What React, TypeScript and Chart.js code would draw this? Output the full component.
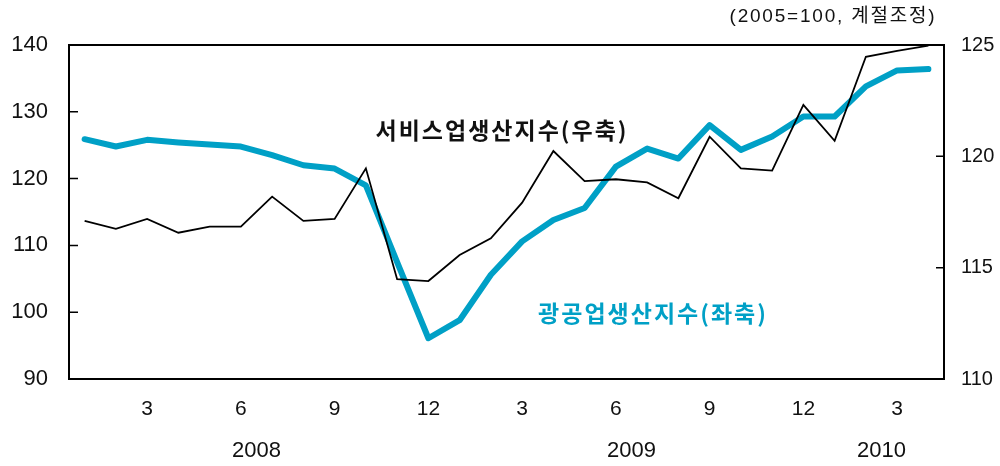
import React, { useEffect, useRef } from "react";
import { Chart, registerables } from "chart.js";
Chart.register(...registerables);

const months = [
  "1","2","3","4","5","6","7","8","9","10","11","12",
  "1","2","3","4","5","6","7","8","9","10","11","12",
  "1","2","3","4",
];
const industrial = [
  125.9, 124.8, 125.8, 125.4, 125.1, 124.8, 123.5, 122.0, 121.5, 119.0, 107.5, 96.1,
  98.8, 105.6, 110.6, 113.8, 115.6, 121.8, 124.5, 123.0, 128.0, 124.3, 126.3, 129.3,
  129.3, 133.8, 136.2, 136.4,
];
const services = [
  117.1, 116.74, 117.19, 116.57, 116.84, 116.84, 118.19, 117.1, 117.19, 119.46, 114.48, 114.4,
  115.57, 116.32, 117.92, 120.24, 118.89, 118.97, 118.83, 118.12, 120.88, 119.46, 119.36, 122.31,
  120.7, 124.47, 124.74, 124.97,
];
const shownMonths = ["3", "6", "9", "12"];
const years = [
  { label: "2008", between: [5, 6] },
  { label: "2009", between: [17, 18] },
  { label: "2010", between: [25, 26] },
];
const leftTicks = [130, 120, 110, 100];
const rightTicks = [120, 115];

const BLUE = "#00a0c6";
const NUM_FONT = "Liberation Sans";
const KR_FONT = "Noto Sans CJK KR";

export default function App() {
  const ref = useRef<HTMLCanvasElement>(null);
  useEffect(() => {
    document.body.style.margin = "0";
    const frame = {
      id: "frame",
      afterDraw(chart: any) {
        const { ctx, chartArea: a, scales } = chart;
        ctx.save();
        ctx.strokeStyle = "#000";
        ctx.lineWidth = 2;
        ctx.strokeRect(a.left, a.top, a.right - a.left, a.bottom - a.top);
        ctx.lineWidth = 1.5;
        ctx.beginPath();
        for (const v of leftTicks) {
          const y = scales.y.getPixelForValue(v);
          ctx.moveTo(a.left, y);
          ctx.lineTo(a.left + 9, y);
        }
        for (const v of rightTicks) {
          const y = scales.y2.getPixelForValue(v);
          ctx.moveTo(a.right, y);
          ctx.lineTo(a.right - 8, y);
        }
        ctx.stroke();
        ctx.fillStyle = "#111";
        ctx.font = `22px "${NUM_FONT}"`;
        ctx.textAlign = "center";
        ctx.textBaseline = "middle";
        for (const yr of years) {
          const x =
            (scales.x.getPixelForValue(yr.between[0]) +
              scales.x.getPixelForValue(yr.between[1])) / 2;
          ctx.fillText(yr.label, x, 451);
        }
        ctx.font = `19px "${NUM_FONT}", "${KR_FONT}"`;
        (ctx as any).letterSpacing = "1.8px";
        ctx.fillText("(2005=100, 계절조정)", 833, 17);
        ctx.font = `bold 23px "${KR_FONT}"`;
        (ctx as any).letterSpacing = "2px";
        ctx.fillStyle = "#111";
        ctx.fillText("서비스업생산지수(우축)", 502, 130);
        ctx.fillStyle = BLUE;
        ctx.fillText("광공업생산지수(좌축)", 653, 313);
        (ctx as any).letterSpacing = "0px";
        ctx.restore();
      },
    };
    const chart = new Chart(ref.current!, {
      type: "line",
      data: {
        labels: months,
        datasets: [
          {
            label: "서비스업생산지수(우축)",
            data: services,
            yAxisID: "y2",
            borderColor: "#000",
            borderWidth: 1.8,
            pointRadius: 0,
            tension: 0,
          },
          {
            label: "광공업생산지수(좌축)",
            data: industrial,
            yAxisID: "y",
            borderColor: BLUE,
            borderWidth: 6,
            pointRadius: 0,
            tension: 0,
            borderCapStyle: "round",
            borderJoinStyle: "round",
          },
        ],
      },
      options: {
        animation: false,
        responsive: false,
        maintainAspectRatio: false,
        layout: { padding: { top: 45, left: 0, right: 0, bottom: 0 } },
        plugins: { legend: { display: false }, tooltip: { enabled: false } },
        scales: {
          x: {
            type: "category",
            offset: true,
            grid: { display: false, drawTicks: false },
            border: { display: false },
            afterFit(s: any) { s.height = 87; },
            ticks: {
              autoSkip: false,
              maxRotation: 0,
              padding: 18,
              color: "#111",
              font: { family: NUM_FONT, size: 21 },
              callback(_v: any, i: number) {
                return shownMonths.includes(months[i]) ? months[i] : "";
              },
            },
          },
          y: {
            position: "left",
            min: 90,
            max: 140,
            grid: { display: false, drawTicks: false },
            border: { display: false },
            afterFit(s: any) { s.width = 69; },
            ticks: {
              stepSize: 10,
              padding: 21,
              color: "#111",
              font: { family: NUM_FONT, size: 22 },
            },
          },
          y2: {
            position: "right",
            min: 110,
            max: 125,
            grid: { display: false, drawTicks: false },
            border: { display: false },
            afterFit(s: any) { s.width = 56; },
            ticks: {
              stepSize: 5,
              padding: 17,
              color: "#111",
              font: { family: NUM_FONT, size: 20 },
            },
          },
        },
      },
      plugins: [frame],
    });
    return () => chart.destroy();
  }, []);
  return (
    <div style={{ width: 1000, height: 466 }}>
      <canvas ref={ref} width={1000} height={466} />
    </div>
  );
}
